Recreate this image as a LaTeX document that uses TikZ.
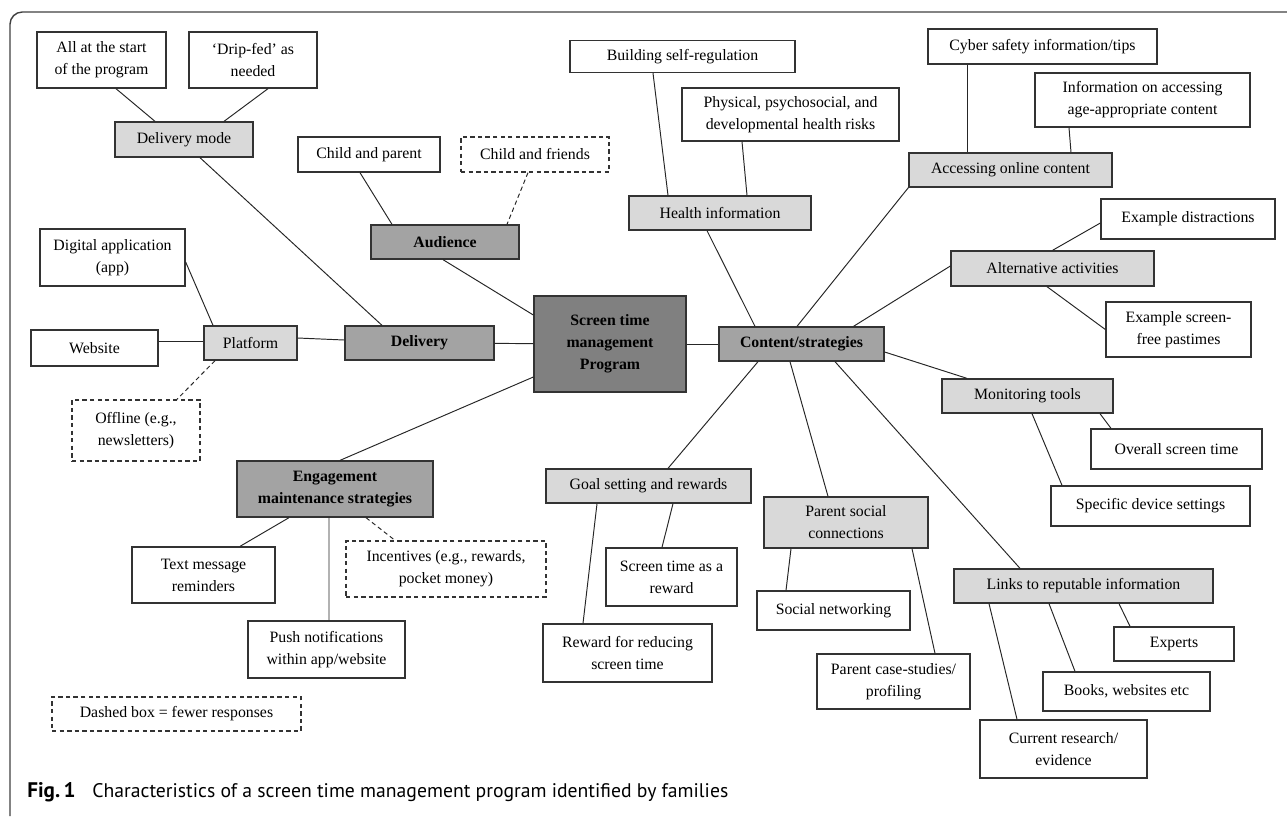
\documentclass[tikz,border=0pt]{standalone}
\usepackage{fontspec}
\setmainfont{Liberation Serif}
\newfontfamily\capfont{PT Sans}
\usetikzlibrary{calc}

\begin{document}
\begin{tikzpicture}[
  x=0.02cm, y=-0.02cm,
  font=\fontsize{9}{12.5}\selectfont,
  box/.style={draw=black!80, line width=0.75pt, inner sep=1pt, align=center},
  sz/.style 2 args={minimum width=#1*0.02cm, minimum height=#2*0.02cm},
  lite/.style={box, fill=black!15},
  mid/.style={box, fill=black!36, font=\fontsize{9}{12.5}\selectfont\bfseries},
  hub/.style={box, fill=black!50, font=\fontsize{9}{12.5}\selectfont\bfseries},
  few/.style={box, dash pattern=on 2.5pt off 1.8pt},
  ln/.style={line width=0.55pt, draw=black!85},
  lnd/.style={ln, dash pattern=on 2.5pt off 1.8pt},
]
\useasboundingbox (0,0) rectangle (1287,816);
% ---------- frame ----------
\draw[black!75, line width=0.8pt, rounded corners=7pt] (1300,12) -- (10,12) -- (10,816);

% ---------- centre ----------
\node[hub, sz={152}{96}] (prog) at (610,344) {Screen time\\management\\Program};

% ---------- delivery side ----------
\node[mid, sz={149}{34}]  (delivery) at (419.5,343) {Delivery};
\node[lite, sz={138}{35}] (dmode)    at (184,139.5) {Delivery mode};
\node[box, sz={129}{56}]  (all)      at (101.5,60)  {All at the start\\of the program};
\node[box, sz={128}{56}]  (drip)     at (253,60)    {`Drip-fed' as\\needed};
\node[lite, sz={93}{34}]  (platform) at (250.5,343) {Platform};
\node[box, sz={145}{57}]  (app)      at (112.5,257.5) {Digital application\\(app)};
\node[box, sz={127}{36}]  (website)  at (94.5,348)  {Website};
\node[few, sz={128}{61}]  (offline)  at (136,430.5) {Offline (e.g.,\\newsletters)};

\draw[ln] ($(all.south)+(14.5,0)$) -- ($(dmode.north)+(-29,0)$);
\draw[ln] ($(drip.south)+(15,0)$) -- ($(dmode.north)+(40,0)$);
\draw[ln] ($(dmode.south)+(16,0)$) -- ($(delivery.north)+(-37.5,0)$);
\draw[ln] ($(app.east)+(0,4.5)$) -- ($(platform.north)+(-37.5,0)$);
\draw[ln] ($(website.east)+(0,-7)$) -- ($(platform.west)+(0,-2)$);
\draw[lnd] ($(platform.south)+(-35.5,0)$) -- ($(offline.north)+(41,0)$);
\draw[ln] ($(platform.east)+(0,-5)$) -- ($(delivery.west)+(0,-3)$);
\draw[ln] (delivery) -- (prog);

% ---------- audience ----------
\node[mid, sz={148}{34}]  (audience) at (445,242)   {Audience};
\node[box, sz={142}{35}]  (childpar) at (369,154.5) {Child and parent};
\node[few, sz={148}{35}]  (childfr)  at (535,154.5) {Child and friends};
\draw[ln] ($(childpar.south)+(-9,0)$) -- ($(audience.north)+(-53,0)$);
\draw[lnd] ($(childfr.south)+(-7,0)$) -- ($(audience.north)+(62,0)$);
\draw[ln] ($(audience.south)+(-2,0)$) -- ($(prog.west)+(0,-29)$);

% ---------- engagement ----------
\node[mid, sz={196}{56}]  (engage)  at (335,489)   {Engagement\\maintenance strategies};
\node[box, sz={143}{56}]  (textmsg) at (203.5,575) {Text message\\reminders};
\node[box, sz={157}{57}]  (push)    at (326.5,649.5) {Push notifications\\within app/website};
\node[few, sz={200}{56}]  (incent)  at (446,569)   {Incentives (e.g., rewards,\\pocket money)};
\draw[ln] ($(prog.west)+(0,33)$) -- ($(engage.north)+(5,0)$);
\draw[ln] ($(engage.south)+(-46,0)$) -- ($(textmsg.north)+(36.5,0)$);
\draw[ln] ($(engage.south)+(-6,0)$) -- ($(push.north)+(2.5,0)$);
\draw[lnd] ($(engage.south)+(31,0)$) -- ($(incent.north)+(-51,0)$);

\node[few, sz={249}{34}] (legend) at (176.5,714) {Dashed box = fewer responses};

% ---------- content / strategies ----------
\node[mid, sz={165}{34}]  (content) at (801.5,344) {Content/strategies};
\draw[ln] (prog) -- (content);

\node[lite, sz={182}{34}] (health)    at (720,213)    {Health information};
\node[box, sz={225}{32}]  (buildself) at (682.5,56.5) {Building self-regulation};
\node[box, sz={217}{53}]  (physical)  at (790.5,114.5) {Physical, psychosocial, and\\developmental health risks};
\draw[ln] ($(content.north)+(-46.5,0)$) -- ($(health.south)+(-13,0)$);
\draw[ln] ($(buildself.south)+(-29.5,0)$) -- ($(health.north)+(-52,0)$);
\draw[ln] ($(physical.south)+(-48.5,0)$) -- ($(health.north)+(27,0)$);

\node[lite, sz={203}{34}] (access)  at (1010.5,170) {Accessing online content};
\node[box, sz={229}{35}]  (cyber)   at (1042.5,46.5) {Cyber safety information/tips};
\node[box, sz={215}{54}]  (infoage) at (1142.5,100) {Information on accessing\\age-appropriate content};
\draw[ln] ($(content.north)+(-4.5,0)$) -- (access.south west);
\draw[ln] ($(cyber.south)+(-75.5,0)$) -- ($(access.north)+(-43.5,0)$);
\draw[ln] ($(infoage.south)+(-73.5,0)$) -- ($(access.north)+(60.5,0)$);

\node[lite, sz={203}{35}] (altact)  at (1052.5,268.5) {Alternative activities};
\node[box, sz={174}{40}]  (exdistr) at (1188,219)     {Example distractions};
\node[box, sz={145}{55}]  (exfree)  at (1178.5,329.5) {Example screen-\\free pastimes};
\draw[ln] ($(content.north)+(52,0)$) -- ($(altact.west)+(0,-2.5)$);
\draw[ln] ($(exdistr.west)+(0,4)$) -- (altact.north);
\draw[ln] ($(altact.south)+(-5.5,0)$) -- (exfree.west);

\node[lite, sz={171}{34}] (monitor)  at (1027.5,396) {Monitoring tools};
\node[box, sz={171}{40}]  (overall)  at (1176.5,449) {Overall screen time};
\node[box, sz={199}{40}]  (specific) at (1150.5,506) {Specific device settings};
\draw[ln] ($(content.east)+(0,8)$) -- ($(monitor.north)+(-60.5,0)$);
\draw[ln] ($(monitor.south)+(72.5,0)$) -- ($(overall.north)+(-65.5,0)$);
\draw[ln] ($(monitor.south)+(4.5,0)$) -- ($(specific.north)+(-88.5,0)$);

\node[lite, sz={259}{34}] (links)   at (1083.5,586) {Links to reputable information};
\node[box, sz={120}{34}]  (experts) at (1174,644)   {Experts};
\node[box, sz={167}{39}]  (books)   at (1126.5,691.5) {Books, websites etc};
\node[box, sz={167}{58}]  (current) at (1063.5,749) {Current research/\\evidence};
\draw[ln] ($(content.south)+(33.5,0)$) -- ($(links.north)+(-63.5,0)$);
\draw[ln] ($(links.south)+(-94.5,0)$) -- ($(current.north)+(-46.5,0)$);
\draw[ln] ($(links.south)+(-34.5,0)$) -- ($(books.north)+(-51.5,0)$);
\draw[ln] ($(links.south)+(35.5,0)$) -- ($(experts.north)+(-44,0)$);

\node[lite, sz={164}{51}] (parent) at (846,522.5)   {Parent social\\connections};
\node[box, sz={153}{39}]  (socnet) at (833.5,610.5) {Social networking};
\node[box, sz={153}{55}]  (casest) at (893.5,681.5) {Parent case-studies/\\profiling};
\draw[ln] ($(content.south)+(-11.5,0)$) -- ($(parent.north)+(-18,0)$);
\draw[ln] ($(parent.south)+(-55,0)$) -- ($(socnet.north)+(-47.5,0)$);
\draw[ln] ($(parent.south)+(66,0)$) -- ($(casest.north)+(41.5,0)$);

\node[lite, sz={205}{34}] (goal)   at (648.5,486) {Goal setting and rewards};
\node[box, sz={131}{58}]  (scrrew) at (671.5,577) {Screen time as a\\reward};
\node[box, sz={169}{58}]  (rewred) at (627.5,653) {Reward for reducing\\screen time};
\draw[ln] ($(content.south)+(-43.5,0)$) -- ($(goal.north)+(19.5,0)$);
\draw[ln] ($(goal.south)+(-51.5,0)$) -- ($(rewred.north)+(-44.5,0)$);
\draw[ln] ($(goal.south)+(24.5,0)$) -- ($(scrrew.north)+(-9.5,0)$);

% ---------- caption ----------
\node[anchor=base west, inner sep=0pt, font=\capfont\fontsize{11.2}{13}\selectfont] (cap) at (27,797)
  {{\fontsize{12}{13}\selectfont\textbf{Fig.\,1}}\hspace{0.85em}Characteristics of a screen time management program identified by families};
\end{tikzpicture}
\end{document}
